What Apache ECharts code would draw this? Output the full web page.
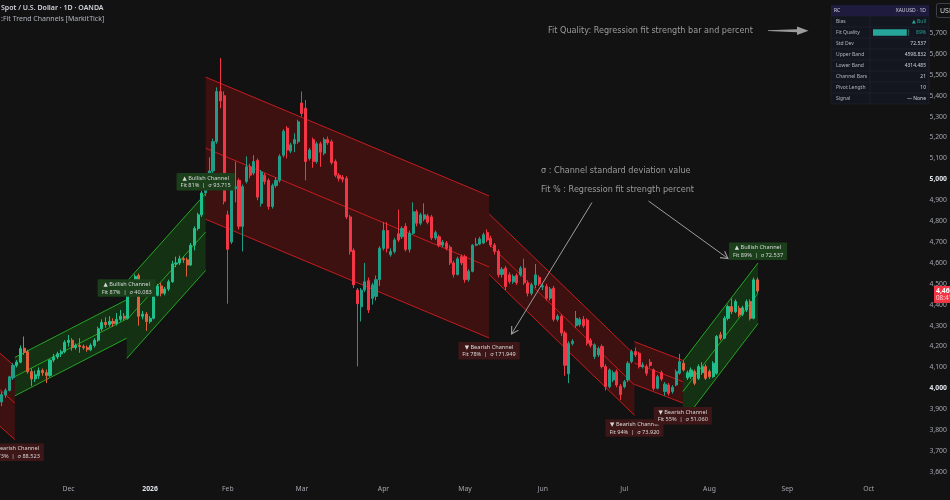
<!DOCTYPE html>
<html><head><meta charset="utf-8">
<script src="https://cdn.jsdelivr.net/npm/echarts@6/dist/echarts.min.js"></script>
<style>html,body{margin:0;padding:0;background:#121212;}#c{width:950px;height:500px;}</style>
</head><body><div id="c"></div>
<script>
// ---------- DATA ----------
const firstDate = '2025-11-05';
const holidays = ['2025-12-25', '2026-01-01'];
const totalBars = 249;

const opens = [3935,3968,3990,4050,4110,4125,4192,4175,4080,4045, 4060,4085,4075,4062,4135,4150,4165,4175,4220,4230,
 4195,4205,4200,4195,4185,4205,4230,4285,4315,4305, 4320,4310,4330,4345,4335,4445,4490,4540,4345,4355,
 4320,4335,4445,4490,4455,4475,4510,4595,4600,4620, 4615,4590,4685,4765,4830,4935,4980,5040,5180,5420,
 5400,4830,4700,4955,4995,4775,4990,5060,5030,5090, 4885,5020,4995,4870,4970,4995,5115,5245,5135,5170,
 5180,5365,5340,5100,5190,5085,5170,5125,5190,5180, 5085,5020,5010,5005,4820,4660,4470,4390,4470,4515,
 4430,4440,4520,4670,4755,4640,4655,4740,4725,4775, 4665,4742,4845,4790,4810,4825,4820,4720,4725,4685,
 4695,4675,4600,4545,4630,4630,4520,4560,4685,4690, 4695,4745,4718,4686,4655,4545,4575,4543,4510,4540,
 4543,4575,4503,4455,4495,4530,4485,4487,4431,4479, 4330,4345,4265,4070,4215,4300,4305,4330,4327,4230,
 4152,4160,4200,4104,4008,4040,4080,4010,4008,4040, 4128,4176,4168,4104,4104,4125,4088,4000,4075,3985,
 4016,3985,4016,4072,4120,4050,4056,4080,4048,4075, 4104,4080,4056,4072,4256,4240,4335,4391,4367,4383,
 4355,4375,4415,4335,4519];
const closes = [3970,3990,4055,4110,4125,4190,4172,4080,4045,4065, 4085,4075,4062,4135,4150,4165,4175,4220,4230,4195,
 4205,4200,4195,4185,4205,4230,4285,4315,4305,4320, 4310,4330,4345,4335,4445,4490,4535,4345,4355,4320,
 4335,4445,4490,4455,4475,4510,4595,4600,4620,4615, 4590,4685,4765,4830,4935,4980,5040,5180,5420,5375,
 4895,4665,4950,4965,4775,4965,5060,5020,5085,4915, 5035,4990,4870,4970,4995,5110,5230,5140,5165,5190,
 5275,5315,5085,5140,5085,5170,5130,5190,5175,5080, 5020,5005,5000,4820,4655,4495,4405,4470,4510,4375,
 4495,4520,4670,4755,4670,4655,4710,4710,4765,4665, 4742,4845,4790,4830,4830,4795,4720,4745,4685,4700,
 4670,4600,4545,4620,4600,4520,4560,4685,4690,4715, 4735,4710,4686,4655,4543,4570,4487,4511,4535,4505,
 4575,4505,4455,4495,4543,4500,4490,4431,4475,4330, 4345,4265,4110,4215,4225,4335,4330,4300,4216,4205,
 4208,4190,4104,4008,4088,4075,4016,3970,4032,4120, 4176,4160,4104,4112,4072,4110,4000,4056,4045,4020,
 3976,4005,4080,4128,4088,4075,4088,4024,4104,4104, 4048,4056,4120,4248,4240,4335,4391,4367,4415,4351,
 4385,4415,4335,4519,4466];
const lows = [3915,3955,3985,4040,4100,4120,4160,4070,4010,4030, 4045,4060,4025,4055,4125,4140,4150,4168,4200,4180,
 4185,4170,4185,4175,4178,4195,4222,4275,4290,4295, 4295,4300,4320,4325,4330,4440,4480,4300,4330,4275,
 4310,4330,4440,4440,4445,4465,4505,4580,4590,4600, 4535,4585,4660,4755,4820,4920,4970,5025,5170,5340,
 4880,4405,4690,4890,4760,4655,4980,5005,5020,4900, 4870,4975,4855,4860,4960,4985,5105,5100,5125,5130,
 5170,5300,4995,5090,5055,5075,5060,5115,5165,5070, 5010,4990,4985,4810,4640,4480,4105,4320,4460,4360,
 4400,4420,4490,4660,4650,4630,4645,4700,4715,4655, 4650,4735,4775,4780,4800,4785,4710,4710,4675,4675,
 4660,4590,4530,4540,4590,4505,4510,4555,4680,4685, 4690,4700,4675,4640,4530,4530,4470,4500,4500,4495,
 4535,4495,4440,4445,4480,4490,4470,4420,4420,4320, 4320,4250,4060,4025,4205,4290,4295,4290,4205,4195,
 4140,4150,4095,3990,4000,4030,4005,3945,4000,4030, 4120,4150,4095,4095,4060,4100,3990,3995,4035,3965,
 3965,3975,4010,4065,4080,4040,4045,4015,4040,4065, 4040,4045,4050,4065,4230,4235,4325,4355,4360,4340,
 4345,4365,4325,4330,4455];
const highs = [3985,4000,4060,4120,4135,4205,4248,4185,4095,4085, 4100,4095,4090,4140,4165,4175,4185,4230,4255,4240,
 4215,4240,4210,4205,4215,4240,4295,4330,4340,4345, 4335,4360,4375,4360,4450,4500,4545,4550,4370,4365,
 4345,4455,4500,4505,4485,4520,4610,4630,4635,4630, 4625,4695,4775,4840,4945,4995,5105,5195,5440,5580,
 5420,4850,4960,5085,5005,4975,5110,5075,5115,5100, 5045,5030,5005,4980,5010,5120,5240,5255,5175,5220,
 5285,5420,5380,5150,5200,5180,5180,5200,5205,5190, 5095,5030,5020,5015,4830,4670,4480,4480,4600,4530,
 4505,4540,4680,4795,4795,4670,4720,4855,4775,4790, 4755,4890,4855,4840,4885,4835,4830,4755,4735,4710,
 4705,4685,4610,4630,4640,4640,4570,4690,4720,4725, 4745,4760,4730,4695,4665,4580,4585,4555,4545,4550,
 4585,4620,4515,4505,4595,4540,4500,4500,4485,4490, 4355,4355,4275,4225,4235,4370,4340,4345,4335,4240,
 4215,4200,4210,4115,4095,4085,4090,4020,4040,4130, 4185,4195,4175,4125,4115,4140,4095,4065,4085,4030,
 4025,4015,4090,4165,4130,4085,4100,4090,4115,4125, 4115,4090,4130,4255,4270,4345,4400,4430,4425,4395,
 4395,4425,4425,4530,4530];

// regression channels (bar index start/end, mid price start/end, half band width)
const channelStart    = [-0.5, 3.5, 33.7, 55.0, 131.5, 170.75, 183.8];
const channelEnd      = [3.5, 33.7, 55.0, 131.5, 170.75, 183.8, 204.1];
const channelMidStart = [3993, 4056, 4327, 5149, 4690, 4121, 3984];
const channelMidEnd   = [3930, 4332, 4748, 4581, 4016, 4032, 4455];
const channelHalf     = [175, 92, 184, 340, 145, 102, 145];
const channelType     = ['bear','bull','bull','bear','bear','bear','bull'];
const channelFit      = [73, 87, 81, 78, 94, 55, 89];
const channelSigma    = ['88.523','40.083','93.715','171.949','73.920','51.060','72.537'];

const yTickValues = [3600,3700,3800,3900,4000,4100,4200,4300,4400,4500,4600,4700,4800,4900,5000,5100,5200,5300,5400,5500,5600,5700];
const monthNames = ['Jan','Feb','Mar','Apr','May','Jun','Jul','Aug','Sep','Oct','Nov','Dec'];

const tableTitle = ['RC', 'XAUUSD · 1D'];
const tableLabels = ['Bias','Fit Quality','Std Dev','Upper Band','Lower Band','Channel Bars','Pivot Length','Signal'];
const tableValues = ['▲ Bull','89%','72.537','4598.832','4314.485','21','10','— None'];
const fitQuality = 89;
const priceTagText = ['4,466.38', '08:41:17'];
const noteTexts = ['Fit Quality: Regression fit strength bar and percent', 'σ : Channel standard deviation value', 'Fit % : Regression fit strength percent'];

// ---------- BUILD ----------
const dates = [];
(function(){
  let t = Date.parse(firstDate + 'T00:00:00Z');
  while (dates.length < totalBars) {
    const d = new Date(t); const wd = d.getUTCDay(); const s = d.toISOString().slice(0,10);
    if (wd > 0 && wd < 6 && holidays.indexOf(s) < 0) dates.push(s);
    t += 86400000;
  }
})();

const BULL_UP = '#1fbf8c', BULL_DN = '#e2603d', BEAR_UP = '#1f9d86', BEAR_DN = '#f23645';
function channelOf(i) {
  for (let k = 0; k < channelStart.length; k++) if (i >= channelStart[k] && i < channelEnd[k]) return k;
  return channelStart.length - 1;
}
const candleData = opens.map((o, i) => {
  const bull = channelType[channelOf(i)] === 'bull';
  const rising = closes[i] >= o;
  const c = bull ? (rising ? BULL_UP : BULL_DN) : (rising ? BEAR_UP : BEAR_DN);
  return { value: [o, closes[i], lows[i], highs[i]], itemStyle: { color: c, color0: c, borderColor: c, borderColor0: c } };
});
const channelData = channelStart.map((s, k) => [s, channelEnd[k], channelMidStart[k], channelMidEnd[k], channelHalf[k], channelType[k] === 'bull' ? 1 : 0]);

const FONT = '"Noto Sans","DejaVu Sans",sans-serif';
const NOTE_FONT = '"DejaVu Sans",sans-serif';

function renderChannel(params, api) {
  const s = api.value(0), e = api.value(1), m0 = api.value(2), m1 = api.value(3), h = api.value(4), bull = api.value(5) === 1;
  const ul = api.coord([s, m0 + h]), ur = api.coord([e, m1 + h]);
  const ml = api.coord([s, m0]), mr = api.coord([e, m1]);
  const ll = api.coord([s, m0 - h]), lr = api.coord([e, m1 - h]);
  const lc = bull ? '#23a523' : '#c41b1e';
  const fill = bull ? 'rgba(30,150,30,0.24)' : 'rgba(165,18,18,0.30)';
  const ln = (a, b) => ({ type: 'line', shape: { x1: a[0], y1: a[1], x2: b[0], y2: b[1] }, style: { stroke: lc, lineWidth: 1 } });
  return { type: 'group', children: [
    { type: 'polygon', shape: { points: [ul, ur, lr, ll] }, style: { fill: fill } },
    ln(ul, ur), ln(ml, mr), ln(ll, lr)
  ]};
}
function renderLabel(params, api) {
  const k = params.dataIndex;
  const e = api.value(1), m1 = api.value(3), h = api.value(4), bull = api.value(5) === 1;
  const p = api.coord([e, bull ? m1 + h : m1 - h]);
  const txt = (bull ? '▲ Bullish Channel' : '▼ Bearish Channel') + '\nFit ' + channelFit[k] + '%  |  σ ' + channelSigma[k];
  return { type: 'text', x: p[0], y: bull ? p[1] - 3 : p[1] + 4,
    style: { text: txt, fill: '#d8d8d8', fontSize: 5.6, fontFamily: FONT, lineHeight: 7.5,
      align: 'center', verticalAlign: bull ? 'bottom' : 'top',
      backgroundColor: bull ? '#1b3e1b' : '#3d1617', padding: [1.5, 4, 1, 4], borderRadius: 1 } };
}

const chart = echarts.init(document.getElementById('c'));
const option = {
  animation: false,
  backgroundColor: '#121212',
  grid: { left: 0, right: 18, top: 0, bottom: 22 },
  xAxis: [{
    type: 'category', data: dates, boundaryGap: true,
    axisLine: { show: false }, axisTick: { show: false }, splitLine: { show: false },
    axisLabel: {
      interval: (i, v) => i > 0 && v.slice(0, 7) !== dates[i - 1].slice(0, 7),
      formatter: (v) => { const m = +v.slice(5, 7); return m === 1 ? '{y|' + v.slice(0, 4) + '}' : monthNames[m - 1]; },
      color: '#a3a6af', fontSize: 6.8, fontFamily: FONT, margin: 8,
      rich: { y: { color: '#e0e3eb', fontWeight: 'bold', fontSize: 6.8, fontFamily: FONT } }
    }
  }, {
    type: 'value', min: -0.5, max: totalBars - 0.5, show: false
  }],
  yAxis: [{
    type: 'value', position: 'right', min: 3571, max: 5858, scale: true,
    axisLine: { show: false }, axisTick: { show: false }, splitLine: { show: false },
    axisLabel: {
      customValues: yTickValues, margin: 7, align: 'left',
      color: '#a3a6af', fontSize: 6.8, fontFamily: FONT,
      formatter: (v) => { const s = v.toLocaleString('en-US'); return v % 1000 === 0 ? '{b|' + s + '}' : s; },
      rich: { b: { color: '#e0e3eb', fontWeight: 'bold', fontSize: 6.8, fontFamily: FONT } }
    }
  }],
  series: [
    { type: 'custom', name: 'channels', xAxisIndex: 1, yAxisIndex: 0, renderItem: renderChannel,
      data: channelData, encode: { x: [0, 1], y: [2, 3] }, clip: true, z: 1, silent: true },
    { type: 'candlestick', xAxisIndex: 0, yAxisIndex: 0, data: candleData, barWidth: '70%', z: 3,
      itemStyle: { color: BULL_UP, color0: BEAR_DN, borderColor: BULL_UP, borderColor0: BEAR_DN } },
    { type: 'custom', name: 'labels', xAxisIndex: 1, yAxisIndex: 0, renderItem: renderLabel,
      data: channelData, encode: { x: [0, 1], y: [2, 3] }, clip: true, z: 5, silent: true }
  ]
};
chart.setOption(option);

// ---------- OVERLAYS ----------
const G = [];
const ANN = '#9c9c9c';
function arrow(x1, y1, x2, y2) {
  const dx = x2 - x1, dy = y2 - y1, L = Math.hypot(dx, dy), ux = dx / L, uy = dy / L;
  const len = 7, w = 4;
  const bx = x2 - ux * len, by = y2 - uy * len;
  const a = [bx - uy * w, by + ux * w], b = [bx + uy * w, by - ux * w];
  G.push({ type: 'line', shape: { x1, y1, x2, y2 }, style: { stroke: ANN, lineWidth: 1 } });
  G.push({ type: 'polyline', shape: { points: [a, [x2, y2], b] }, style: { stroke: ANN, lineWidth: 1.1, fill: null } });
}
// title
G.push({ type: 'text', x: 1, y: 8, style: { text: 'Spot / U.S. Dollar · 1D · OANDA', fill: '#d1d4dc', fontSize: 7, fontWeight: 600, fontFamily: FONT, verticalAlign: 'middle' } });
G.push({ type: 'text', x: 1, y: 18.5, style: { text: ':Fit Trend Channels [MarkitTick]', fill: '#b2b5be', fontSize: 7, fontFamily: FONT, verticalAlign: 'middle' } });
// annotations
G.push({ type: 'text', x: 548, y: 31, style: { text: noteTexts[0], fill: ANN, fontSize: 8.1, fontFamily: NOTE_FONT, verticalAlign: 'middle' } });
G.push({ type: 'polygon', shape: { points: [[768, 30.3], [797, 29.2], [797, 26.5], [808.5, 30.7], [797, 34.9], [797, 32.2], [768, 31.1]] }, style: { fill: ANN } });
G.push({ type: 'text', x: 541, y: 170.7, style: { text: noteTexts[1], fill: ANN, fontSize: 8.1, fontFamily: NOTE_FONT, verticalAlign: 'middle' } });
G.push({ type: 'text', x: 541, y: 190, style: { text: noteTexts[2], fill: ANN, fontSize: 8.1, fontFamily: NOTE_FONT, verticalAlign: 'middle' } });
arrow(592, 202.5, 511.5, 334);
arrow(648.5, 201, 728, 258.5);
// table
const TX = 831, TW = 98, TY = 5, RH = 11, CX = 870;
G.push({ type: 'rect', shape: { x: TX, y: TY, width: TW, height: RH }, style: { fill: '#1f1b3f' } });
G.push({ type: 'rect', shape: { x: TX, y: TY + RH, width: TW, height: RH * tableLabels.length }, style: { fill: '#13161f', stroke: '#222633', lineWidth: 0.6 } });
G.push({ type: 'text', x: TX + 3, y: TY + RH / 2, style: { text: tableTitle[0], fill: '#d1d4dc', fontSize: 5, fontFamily: FONT, verticalAlign: 'middle' } });
G.push({ type: 'text', x: TX + TW - 3, y: TY + RH / 2, style: { text: tableTitle[1], fill: '#d1d4dc', fontSize: 5, fontFamily: FONT, align: 'right', verticalAlign: 'middle' } });
G.push({ type: 'line', shape: { x1: CX, y1: TY + RH, x2: CX, y2: TY + RH * (tableLabels.length + 1) }, style: { stroke: '#232736', lineWidth: 0.6 } });
tableLabels.forEach((lab, r) => {
  const cy = TY + RH * (r + 1) + RH / 2;
  if (r > 0) G.push({ type: 'line', shape: { x1: TX, y1: TY + RH * (r + 1), x2: TX + TW, y2: TY + RH * (r + 1) }, style: { stroke: '#232736', lineWidth: 0.6 } });
  G.push({ type: 'text', x: TX + 5, y: cy, style: { text: lab, fill: '#b2b5be', fontSize: 5, fontFamily: FONT, verticalAlign: 'middle' } });
  const teal = r === 0 || r === 1;
  G.push({ type: 'text', x: TX + TW - 3, y: cy, style: { text: tableValues[r], fill: teal ? '#26a69a' : '#d1d4dc', fontSize: 5, fontFamily: FONT, align: 'right', verticalAlign: 'middle' } });
  if (r === 1) {
    G.push({ type: 'rect', shape: { x: CX + 3, y: cy - 3.2, width: 38 * fitQuality / 100, height: 6.4 }, style: { fill: '#26a69a' } });
    G.push({ type: 'rect', shape: { x: CX + 3 + 38 * fitQuality / 100 + 1.5, y: cy - 3.2, width: 0.8, height: 6.4 }, style: { fill: '#4a6d6a' } });
  }
});
// currency button
G.push({ type: 'rect', shape: { x: 936.5, y: 3.5, width: 24, height: 14, r: 2 }, style: { fill: 'none', stroke: '#3b3f4b', lineWidth: 1 } });
G.push({ type: 'text', x: 940, y: 10.5, style: { text: 'USD', fill: '#d1d4dc', fontSize: 7, fontFamily: FONT, verticalAlign: 'middle' } });
// last price tag
const lastClose = closes[closes.length - 1];
const py = chart.convertToPixel({ yAxisIndex: 0 }, lastClose);
G.push({ type: 'rect', shape: { x: 934, y: py - 5, width: 30, height: 17 }, style: { fill: '#f23645' } });
G.push({ type: 'text', x: 936, y: py, style: { text: priceTagText[0], fill: '#ffffff', fontSize: 6.8, fontWeight: 'bold', fontFamily: FONT, verticalAlign: 'middle' } });
G.push({ type: 'text', x: 936, y: py + 7.5, style: { text: priceTagText[1], fill: '#ffd6da', fontSize: 6.3, fontFamily: FONT, verticalAlign: 'middle' } });

chart.setOption({ graphic: G.map((g, i) => Object.assign({ id: 'g' + i, silent: true, z: 100 }, g)) });
</script>
</body></html>
